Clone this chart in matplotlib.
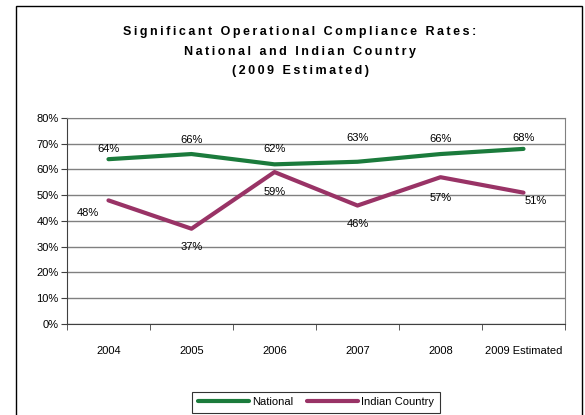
import matplotlib.pyplot as plt
from matplotlib.patches import Rectangle
import numpy as np

plt.rcParams['font.family'] = ['Liberation Sans', 'DejaVu Sans']

years = ["2004", "2005", "2006", "2007", "2008", "2009 Estimated"]
national = [64, 66, 62, 63, 66, 68]
indian = [48, 37, 59, 46, 57, 51]

# label offsets in points (dx, dy) as placed in the original chart
nat_off = [(0, 7), (0, 10), (0, 11), (0, 17), (0, 11), (0, 8)]
ind_off = [(-15, -9), (0, -13), (0, -14), (0, -13), (0, -15), (9, -6)]

green = "#1b7b3c"
purple = "#993366"

fig = plt.figure(figsize=(5.85, 4.15), dpi=100)
ax = fig.add_axes([0.1145, 0.2193, 0.8513, 0.4964])

x = np.arange(len(years))
ax.plot(x, national, color=green, lw=3, label="National", solid_capstyle="round")
ax.plot(x, indian, color=purple, lw=3, label="Indian Country", solid_capstyle="round")

for i, v in enumerate(national):
    ax.annotate(f"{v}%", (x[i], v), xytext=nat_off[i], textcoords="offset points",
                ha="center", va="center", fontsize=8)
for i, v in enumerate(indian):
    ax.annotate(f"{v}%", (x[i], v), xytext=ind_off[i], textcoords="offset points",
                ha="center", va="center", fontsize=8)

ax.set_xlim(-0.5, len(years) - 0.5)
ax.set_ylim(0, 80)
ax.set_yticks(range(0, 81, 10))
ax.set_yticklabels([f"{t}%" for t in range(0, 81, 10)], fontsize=8)
ax.set_xticks(x)
ax.set_xticklabels(years, fontsize=8)
ax.set_xticks(np.arange(-0.5, len(years)), minor=True)
ax.tick_params(axis="x", which="major", length=0, pad=16)
ax.tick_params(axis="x", which="minor", length=4, direction="out", color="#404040")
ax.tick_params(axis="y", length=4, direction="out", color="#404040", pad=2)
ax.yaxis.grid(True, color="#808080", lw=1)
ax.set_axisbelow(True)
for s in ["top", "right"]:
    ax.spines[s].set_color("#808080")
for s in ["left", "bottom"]:
    ax.spines[s].set_color("#404040")

# spaced-out title, as in the original
title_lines = ["Significant Operational Compliance Rates:",
               "National and Indian Country",
               "(2009 Estimated)"]
title = "\n".join("\u2009".join(line) for line in title_lines)
fig.text(300 / 585, 1 - 26 / 415, title, ha="center", va="top", fontsize=9,
         fontweight="bold", linespacing=1.85)

fig.add_artist(Rectangle((16 / 585, -0.1), 566 / 585, 1.1 - 6 / 415, transform=fig.transFigure,
                         fill=False, edgecolor="black", lw=1))

leg = fig.legend(loc="upper center", bbox_to_anchor=(316 / 585, 1 - 386 / 415), ncol=2,
                 fontsize=8, frameon=True, fancybox=False, edgecolor="black",
                 handlelength=4.6, columnspacing=1.2, handletextpad=0.3, borderpad=0.5)
leg.get_frame().set_linewidth(0.8)

fig.savefig("out.png", dpi=100)
